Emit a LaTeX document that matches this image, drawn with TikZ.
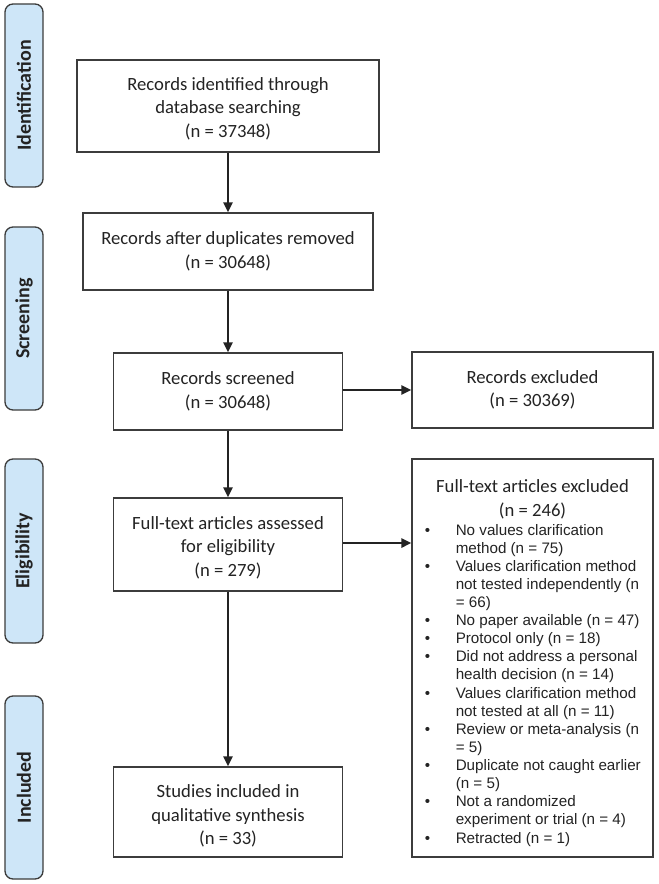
\documentclass[tikz,border=0pt]{standalone}
\usepackage{fontspec}
\setmainfont{Carlito}
\newfontfamily\arialish{Liberation Sans}
\usetikzlibrary{arrows.meta}
\definecolor{tabblue}{RGB}{206,230,248}
\definecolor{edgecol}{RGB}{60,60,60}
\definecolor{ink}{RGB}{35,35,35}
\begin{document}
\begin{tikzpicture}[x=0.75pt,y=-0.75pt,
  box/.style={draw=edgecol,line width=1.1pt,fill=white,inner sep=0pt},
  boxtext/.style={align=center,inner sep=0pt,text=ink,font=\fontsize{14}{17.6}\selectfont},
  tab/.style={draw=edgecol,line width=1pt,fill=tabblue,rounded corners=6pt,inner sep=0pt,
    rotate=90,minimum height=28.5pt,font=\bfseries\fontsize{15}{18}\selectfont,text=ink},
  arr/.style={draw=ink,line width=1.5pt,-{Triangle[length=7.5pt,width=7pt]}},
  listline/.style={anchor=base west,inner sep=0pt,text=ink,
    font={\arialish\fontsize{11.4}{13}\selectfont}}
]
\useasboundingbox (0,0) rectangle (658,884);

% phase tabs
\node[tab,minimum width=137.25pt] (tId) at (24,95.5) {Identification};
\node[tab,minimum width=137.25pt] (tSc) at (24,318.5) {Screening};
\node[tab,minimum width=138pt] (tEl) at (24,551) {Eligibility};
\node[tab,minimum width=137.25pt] (tIn) at (24,787.5) {Included};

% main boxes
\node[box,minimum width=226.5pt,minimum height=69pt] (b1) at (228,106) {};
\node[boxtext] (b1t) at (228,108.5) {Records identified through\\database searching\\(n = 37348)};
\node[box,minimum width=217.5pt,minimum height=57.75pt] (b2) at (228,251.5) {};
\node[boxtext] (b2t) at (228,251.5) {Records after duplicates removed\\(n = 30648)};
\node[box,minimum width=171.75pt,minimum height=57.75pt] (b3) at (228,391.5) {};
\node[boxtext] (b3t) at (228,391.5) {Records screened\\(n = 30648)};
\node[box,minimum width=171.75pt,minimum height=69.75pt] (b4) at (228,544.5) {};
\node[boxtext] (b4t) at (228,547.5) {Full-text articles assessed\\for eligibility\\(n = 279)};
\node[box,minimum width=171.75pt,minimum height=67.5pt] (b5) at (228,812) {};
\node[boxtext] (b5t) at (228,816) {Studies included in\\qualitative synthesis\\(n = 33)};
\node[box,minimum width=180.75pt,minimum height=57pt] (e1) at (532.5,390) {};
\node[boxtext] (e1t) at (532.5,390) {Records excluded\\(n = 30369)};
\node[box,minimum width=180.75pt,minimum height=298.5pt] (e2) at (532.5,658) {};
\node[boxtext] (e2t) at (532.5,499.5) {Full-text articles excluded\\(n = 246)};

% exclusion reasons, one line each
\foreach \b/\t [count=\i from 0] in {
  1/No values clarification,
  0/method (n = 75),
  1/Values clarification method,
  0/not tested independently (n,
  0/= 66),
  1/No paper available (n = 47),
  1/Protocol only (n = 18),
  1/Did not address a personal,
  0/health decision (n = 14),
  1/Values clarification method,
  0/not tested at all (n = 11),
  1/Review or meta-analysis (n,
  0/= 5),
  1/Duplicate not caught earlier,
  0/(n = 5),
  1/Not a randomized,
  0/experiment or trial (n = 4),
  1/Retracted (n = 1)}{
  \node[listline] (l\i) at (455.5,{535+18.12*\i}) {\t};
  \ifnum\b=1
    \node[listline] (m\i) at (424.5,{535+18.12*\i}) {\textbullet};
  \fi
}

% connectors
\draw[arr] (b1.south) -- (b1.south |- b2.north);
\draw[arr] (b2.south) -- (b2.south |- b3.north);
\draw[arr] (b3.south) -- (b3.south |- b4.north);
\draw[arr] (b4.south) -- (b4.south |- b5.north);
\draw[arr] (b3.east |- e1.west) -- (e1.west);
\draw[arr] ([yshift=1.1pt]b4.east) -- ([yshift=1.1pt]b4.east -| e2.west);
\end{tikzpicture}
\end{document}
